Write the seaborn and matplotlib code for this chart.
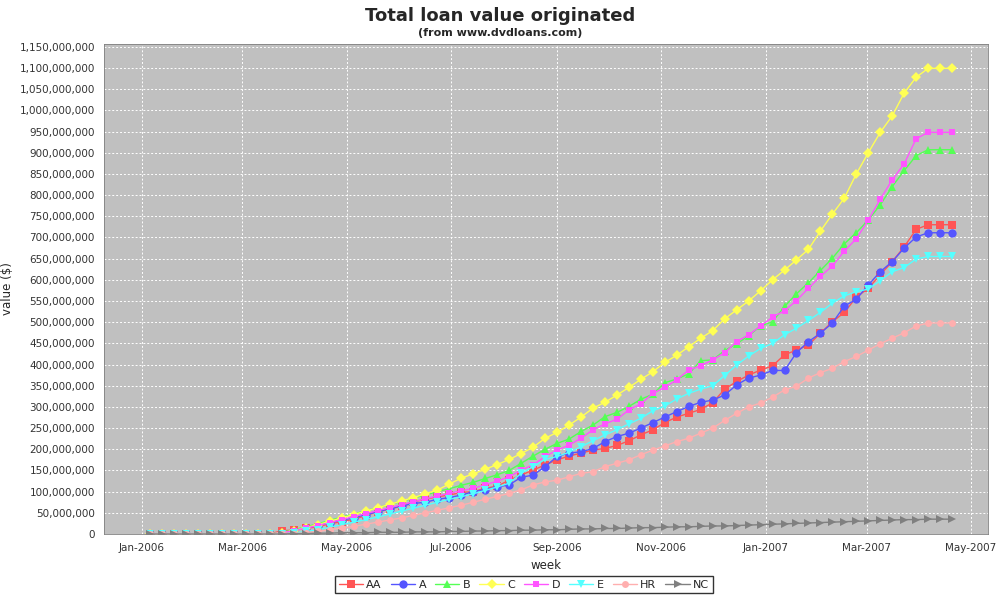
import numpy as np
import pandas as pd
import matplotlib
matplotlib.use("Agg")
import matplotlib.pyplot as plt
import matplotlib.dates as mdates
from matplotlib.ticker import FuncFormatter, MultipleLocator
import seaborn as sns

# weekly cumulative loan value, millions of dollars
weeks = pd.date_range(end="2007-04-20", periods=68, freq="7D")

aa = [0] * 11 + [8, 9, 13, 17, 24, 29, 35, 43, 53, 58, 66, 76, 82, 88, 92, 98, 100, 108, 113, 127,
                 139, 151, 163, 175, 184, 191, 198, 202, 209, 220, 234, 246, 263, 276, 285, 294, 310, 342, 360, 375,
                 387, 397, 423, 434, 446, 474, 501, 523, 559, 580, 612, 643, 678, 719, 730, 730, 730]
a = [0] * 11 + [3, 8, 15, 20, 27, 33, 38, 46, 52, 60, 66, 72, 75, 82, 86, 92, 100, 105, 111, 116,
                134, 139, 159, 183, 191, 194, 202, 218, 230, 238, 250, 263, 276, 289, 301, 311, 316, 328, 352, 368,
                375, 386, 386, 428, 454, 474, 498, 538, 554, 588, 619, 643, 675, 701, 711, 711, 711]
b = [0] * 11 + [4, 10, 17, 24, 32, 40, 47, 55, 62, 70, 77, 85, 92, 100, 107, 115, 122, 131, 140, 150,
                167, 184, 200, 214, 224, 242, 257, 277, 287, 301, 318, 330, 357, 366, 378, 409, 411, 433, 449, 468,
                491, 501, 537, 567, 593, 622, 651, 685, 711, 741, 777, 820, 858, 893, 907, 907, 907]
c = [0] * 11 + [3, 8, 15, 22, 30, 38, 46, 54, 62, 70, 78, 86, 95, 104, 118, 132, 142, 153, 164, 176,
                190, 205, 226, 240, 257, 276, 297, 311, 328, 346, 365, 383, 405, 422, 442, 462, 480, 508, 529, 550,
                574, 600, 623, 647, 672, 715, 755, 793, 850, 900, 948, 987, 1041, 1078, 1099, 1099, 1099]
d = [0] * 11 + [3, 8, 14, 20, 27, 34, 41, 48, 55, 62, 69, 76, 83, 90, 96, 102, 108, 116, 125, 135,
                151, 163, 183, 198, 210, 226, 246, 260, 271, 293, 307, 332, 346, 364, 387, 397, 411, 428, 454, 470,
                491, 512, 527, 551, 580, 608, 633, 668, 697, 741, 790, 836, 874, 933, 948, 948, 948]
e = [0] * 11 + [0, 2, 6, 10, 16, 22, 28, 34, 40, 47, 54, 61, 68, 75, 82, 88, 95, 103, 111, 120,
                143, 159, 176, 183, 193, 206, 220, 234, 246, 260, 273, 291, 302, 319, 332, 342, 350, 374, 399, 420,
                438, 450, 470, 486, 504, 523, 545, 562, 572, 578, 598, 619, 629, 649, 655, 655, 655]
hr = [0] * 11 + [0, 1, 3, 6, 10, 14, 18, 23, 28, 33, 38, 44, 50, 56, 62, 68, 75, 82, 89, 96,
                 104, 116, 123, 127, 135, 143, 147, 159, 167, 175, 187, 198, 208, 218, 226, 238, 250, 268, 285, 300,
                 309, 323, 340, 349, 368, 381, 391, 407, 419, 434, 449, 462, 475, 491, 498, 498, 498]
nc = [0] * 12 + [1, 1, 2, 2, 3, 3, 3, 4, 4, 4, 5, 5, 5, 6, 6, 7, 7, 8, 8, 9, 9, 10, 10, 11, 12, 12, 13, 13,
                 14, 15, 15, 16, 17, 17, 18, 19, 19, 20, 21, 22, 23, 24, 25, 26, 27, 28, 29, 30, 31, 32, 33,
                 34, 34, 35, 35, 35]

names = ["AA", "A", "B", "C", "D", "E", "HR", "NC"]
series = [aa, a, b, c, d, e, hr, nc]
colors = ["#ff5555", "#5555ff", "#55ff55", "#ffff55", "#ff55ff", "#55ffff", "#ffafaf", "#808080"]
markers = ["s", "o", "^", "D", "s", "v", "o", ">"]
sizes = [6, 6, 6, 5, 5, 6, 5, 6]

sns.set_style("white")
fig = plt.figure(figsize=(10, 6), dpi=100)
ax = fig.add_axes([0.104, 0.11, 0.884, 0.817])
ax.set_facecolor("#c0c0c0")

for name, vals, col, mk, ms in zip(names, series, colors, markers, sizes):
    sns.lineplot(x=weeks, y=np.array(vals) * 1e6, ax=ax, color=col, marker=mk,
                 markersize=ms, markeredgewidth=0, linewidth=1, label=name)

ax.set_xlim(pd.Timestamp("2005-12-10"), pd.Timestamp("2007-05-11"))
ax.set_ylim(0, 1.157e9)
ax.xaxis.set_major_locator(mdates.MonthLocator(bymonth=[1, 3, 5, 7, 9, 11]))
ax.xaxis.set_major_formatter(mdates.DateFormatter("%b-%Y"))
ax.yaxis.set_major_locator(MultipleLocator(5e7))
ax.yaxis.set_major_formatter(FuncFormatter(lambda v, p: f"{int(round(v)):,}"))
ax.tick_params(labelsize=7.5, length=3, colors="#333333")
ax.grid(True, color="white", linestyle=(0, (2, 2)), linewidth=0.7)
for s in ax.spines.values():
    s.set_color("#808080")
    s.set_linewidth(0.6)

ax.set_xlabel("week", fontsize=8.5)
ax.set_ylabel("value ($)", fontsize=8.5)

fig.text(0.5, 0.965, "Total loan value originated", ha="center", fontsize=13, fontweight="bold")
fig.text(0.5, 0.94, "(from www.dvdloans.com)", ha="center", fontsize=8, fontweight="bold")

ax.legend(loc="upper center", bbox_to_anchor=(0.475, -0.075), ncol=8, fontsize=8,
          frameon=True, fancybox=False, edgecolor="black", handlelength=2.2,
          columnspacing=0.8, handletextpad=0.3, borderpad=0.3)

fig.savefig("out.png", dpi=100)
